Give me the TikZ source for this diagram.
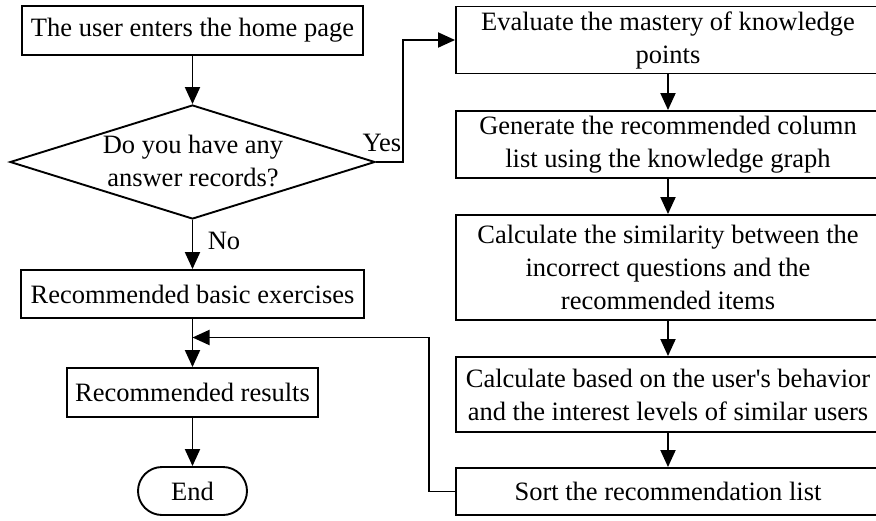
\documentclass[tikz,border=0pt]{standalone}
\usepackage{fontspec}
\setmainfont{Liberation Serif}
\usetikzlibrary{shapes.geometric,shapes.misc,arrows.meta}
\begin{document}
\begin{tikzpicture}[x=1pt,y=-1pt,
  every node/.style={font=\fontsize{26.5}{33}\selectfont},
  ln/.style={line width=1.9pt},
  box/.style={draw,ln,rectangle,inner sep=0pt,align=center},
  rbox/.style={box,minimum width=424pt},
  arr/.style={ln,-{Triangle[length=17pt,width=15pt]}}]
\useasboundingbox (0,0) rectangle (876,520);
% left column
\node[box,minimum width=341pt,minimum height=49pt] (start) at (192.5,30.5) {The user enters the home page};
\node[diamond,draw,ln,minimum width=365pt,minimum height=114pt,inner sep=0pt] (dec) at (192.5,162) {};
\node[align=center,inner sep=0pt] (dectext) at (193,161) {Do you have any\\answer records?};
\node[box,minimum width=343pt,minimum height=48pt] (basic) at (192.5,294) {Recommended basic exercises};
\node[box,minimum width=251pt,minimum height=49pt] (results) at (192.5,392.5) {Recommended results};
\node[draw,ln,rounded rectangle,inner sep=0pt,minimum width=109pt,minimum height=48pt] (end) at (192.5,491) {End};
% right column
\node[rbox,minimum height=67pt] (r1) at (668,40) {Evaluate the mastery of knowledge\\points};
\node[rbox,minimum height=67pt] (r2) at (668,144.5) {Generate the recommended column\\list using the knowledge graph};
\node[rbox,minimum height=105pt] (r3) at (668,267.5) {Calculate the similarity between the\\incorrect questions and the\\recommended items};
\node[rbox,minimum height=75pt] (r4) at (668,394.5) {Calculate based on the user\textquotesingle s behavior\\and the interest levels of similar users};
\node[rbox,minimum height=47pt] (r5) at (668,491.5) {Sort the recommendation list};
% labels
\node (yes) at (382,143) {Yes};
\node (no) at (224,241) {No};
% connectors
\coordinate (ybend) at (403,162);
\coordinate (fbend) at (429,491.5);
\coordinate (merge) at (192.5,337.5);
\draw[arr] (start.south) -- (dec.north);
\draw[arr] (dec.south) -- (basic.north);
\draw[arr] (dec.east) -- (ybend) |- (r1.west);
\draw[arr] (basic.south) -- (results.north);
\draw[arr] (results.south) -- (end.north);
\draw[arr] (r1.south) -- (r2.north);
\draw[arr] (r2.south) -- (r3.north);
\draw[arr] (r3.south) -- (r4.north);
\draw[arr] (r4.south) -- (r5.north);
\draw[arr] (r5.west) -- (fbend) |- (merge);
\end{tikzpicture}
\end{document}
